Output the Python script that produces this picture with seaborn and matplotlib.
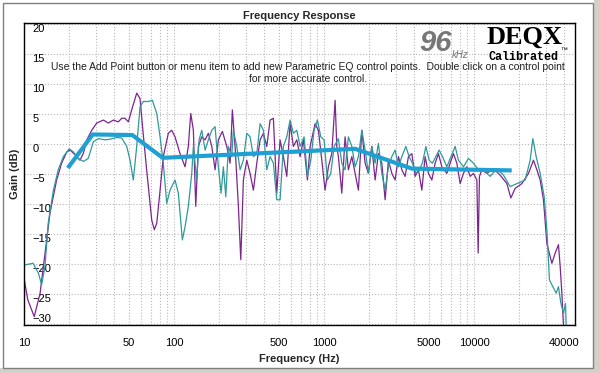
import numpy as np
import pandas as pd
import seaborn as sns
import matplotlib.pyplot as plt
from matplotlib.patches import Rectangle
from matplotlib.ticker import FixedLocator, NullFormatter, LogLocator

# measured response, channel 1 (purple)
purple_freq = [10, 10.6, 11.7, 12.8, 13.8, 14.9, 16.5, 17.8, 19.3, 20.3, 21.9, 23.6, 24.9, 26.2,
               28.3, 30.5, 33.8, 36.5, 39.4, 42.5, 44.8, 47.1, 49.6, 52.2, 56.4, 59.3, 62.4, 65.8,
               71.0, 73.9, 76.7, 80.7, 84.8, 91.6, 96.5, 101.5, 109.6, 118.4, 124.5, 129.2, 134.5,
               139.5, 145.2, 153, 161, 169.3, 178.4, 187.7, 197.4, 209.9, 224.6, 236.2, 244.7, 255.1,
               268.4, 278.4, 289.7, 305.3, 321.1, 337.9, 355.9, 374.5, 393.9, 415, 436.5, 459.2,
               483.8, 508.8, 535.5, 564, 593.3, 624.2, 657.7, 691.8, 727.8, 774.1, 806.9, 871,
               916.2, 965.4, 1015, 1068, 1125, 1184, 1215, 1245, 1312, 1380, 1452, 1530, 1610, 1693,
               1784, 1876, 1974, 2080, 2188, 2301, 2425, 2551, 2684, 2828, 2974, 3129, 3296, 3467,
               3648, 3843, 4043, 4253, 4481, 4713, 4958, 5224, 5495, 5781, 6091, 6577, 6918, 7278,
               7668, 8066, 8486, 8941, 9404, 9893, 10423, 10633, 10847, 11255, 12154, 13452, 14909,
               16520, 17565, 18761, 20797, 23015, 24853, 26182, 27542, 28973, 30524, 32961, 34674,
               36475, 37428, 38424, 39376]
purple_gain = [-22.4, -26, -28.8, -24.9, -18.2, -11.5, -6, -3.2, -1.3, -1, -1.8, -2.7, -1.5, 0.7,
               2.3, 3.5, 4.0, 3.5, 4.0, 3.7, 4.3, 4.3, 3.7, 5.7, 8.5, 7.6, 1.5, -4.5,
               -12.7, -14.3, -13.2, -7.7, -2.1, 1.8, 2.3, 1.2, -1.6, -3.8, -0.4, 5.1, 2.3,
               -10.4, -0.4, 1.2, 0.7, 1.8, -0.4, -4.3, 0.7, 2.1, -0.4, -3.2, 5.7, -0.4,
               -10.4, -19.3, -6, -2.7, -4.9, -7.7, -3.2, 0.7, 1.8, -0.4, 4.0, 4.3,
               -8.2, 0.7, -2.1, -5.4, 3.4, -0.4, 0.7, -2.1, 0.7, -6, -0.4, 3.4,
               2.3, -2.7, -7.7, -3.8, -1.6, 7.3, -0.4, -2.1, -8.2, 1.2, -4.3, -2.1, -4.9, -7.7,
               2.3, -3.2, -4.9, -0.4, -6, -1.6, -3.2, -9.3, -2.7, -4.9, -6, -2.1, -4.3, -5.4,
               -2.1, -1.6, -5.4, -4.3, -7.7, -2.1, -4.9, -6, -3.2, -1.6, -3.8, -4.9, -3.2, -1.6,
               -3.2, -6.6, -4.9, -3.8, -5.4, -4.9, -6, -18.2, -5.4, -4.3, -4.9, -4.1, -5.2,
               -6.6, -9, -7.4, -6.6, -4.9, -2.7, -4.3, -6, -9.3, -16.6, -19.9, -18.2,
               -16.8, -20.4, -24.9, -30.4]

# measured response, channel 2 (teal)
teal_freq = [10, 11.5, 12.5, 13.1, 13.8, 14.5, 15.7, 16.9, 18.3, 20.0, 21.3, 23.0, 24.9, 26.8,
             29.0, 31.3, 34.7, 37.4, 41.5, 44.8, 48.4, 50.9, 53.5, 56.4, 59.3, 62.4, 67.4, 71.7,
             76.7, 80.7, 84.8, 89.4, 94.0, 101.5, 106.8, 113.6, 118.4, 124.5, 131.2, 134.5, 141.7,
             146.8, 153, 161, 169.3, 178.4, 187.7, 197.4, 205.8, 213.2, 221.2, 230.1, 242.4, 248.4,
             261.8, 275.4, 289.7, 305.3, 321.1, 337.9, 355.9, 374.5, 393.9, 415, 436.5, 459.2,
             483.8, 508.8, 535.5, 564, 593.3, 624.2, 657.7, 691.8, 735.6, 774.1, 815.3, 857.7,
             902.2, 950.6, 1000, 1052, 1108, 1166, 1245, 1312, 1380, 1452, 1530, 1610, 1693, 1784,
             1876, 1974, 2080, 2188, 2301, 2425, 2551, 2684, 2828, 2974, 3129, 3296, 3505, 3687,
             3879, 4088, 4298, 4521, 4764, 5012, 5272, 5555, 5843, 6147, 6577, 7468, 7857, 8486,
             9162, 9893, 10683, 11535, 12788, 14168, 15683, 17378, 19269, 21878, 23618, 24614,
             25900, 27542, 29286, 30524, 31769, 33474, 35213, 36475, 37844, 39376, 40626, 41060]
teal_gain = [-20.2, -19.9, -21.6, -23.5, -20.4, -13.2, -7.7, -4.3, -2.1, -0.8, -1.3, -2.4, -2.9, -2.4,
             0.4, 0.9, 0.7, 0.8, 1.1, 1.0, -0.4, -2.7, -6, -0.4, 6.2, 7.1, 7.1, 7.3,
             5.1, 1.2, -3.2, -9.9, -7.7, -6, -8.2, -16, -13.8, -10.4, -4.9, -0.4, -6,
             0.7, 2.3, -1, 0.7, 2.3, 2.9, -3.8, -8.2, -3.8, -8.8, -0.4, -2.1, 2.3,
             -0.4, -4.3, -2.7, 1.8, 1.2, -2.1, -1.6, 3.4, 2.3, -4.3, -2.1, -3.2,
             -9.3, -9.3, -0.4, 1.2, 4.0, 1.8, 2.3, -0.4, 1.2, -5.4, -2.7, 2.3,
             4.0, 1.2, 0.7, -6, -4.9, -0.4, 0.9, -3.2, -4.3, 1.2, -0.4, -3.8, -2.1, 2.3,
             -1, -4.9, -0.4, -3.2, 0.1, -4.9, -7.7, -3.8, -2.1, -1, -3.8, -2.1, -0.4, -2.1,
             -3.2, -4.9, -4.3, -3.2, -0.4, -2.7, -3.2, -2.1, -1, -2.1, -3.8, -0.4, -2.7, -3.8,
             -2.4, -3.2, -4.3, -4.3, -5.4, -4.1, -5.2, -7.1, -6.6, -6, -2.7, 0.9,
             -2.1, -4.9, -8.8, -14.3, -22.7, -23.8, -24.9, -23.8, -26.6, -28.2, -26.6, -30.4]

# parametric EQ control points
eq_freq = [19.6, 28.7, 52.7, 84, 1610, 3845, 17800]
eq_gain = [-4.0, 1.6, 1.5, -2.3, -0.8, -4.1, -4.4]

x_ticks = [10, 50, 100, 500, 1000, 5000, 10000, 40000]
y_ticks = [20, 15, 10, 5, 0, -5, -10, -15, -20, -25, -30]

sns.set_style("white")
plt.rcParams['font.family'] = ['Liberation Sans', 'DejaVu Sans']

fig = plt.figure(figsize=(6, 3.73), dpi=100)
fig.patch.set_facecolor('white')
ax = fig.add_axes([24 / 600, 1 - 325 / 373, 551 / 600, 302 / 373])

sns.lineplot(x=purple_freq, y=purple_gain, ax=ax, color='#7d2590', linewidth=0.9, estimator=None)
sns.lineplot(x=teal_freq, y=teal_gain, ax=ax, color='#2f9a98', linewidth=0.9, estimator=None)
sns.lineplot(x=eq_freq, y=eq_gain, ax=ax, color='#1ea0d2', linewidth=3.0, estimator=None,
             solid_capstyle='butt')

ax.set_xscale('log')
ax.set_xlim(10, 47000)
ax.set_ylim(-30.2, 20.2)

ax.xaxis.set_major_locator(FixedLocator(x_ticks))
ax.set_xticklabels([str(t) for t in x_ticks])
ax.xaxis.set_minor_locator(LogLocator(base=10, subs=np.arange(1, 10)))
ax.xaxis.set_minor_formatter(NullFormatter())
ax.set_yticks(y_ticks)
ax.yaxis.set_minor_locator(FixedLocator(np.arange(-30, 21, 1)))

ax.grid(True, which='both', axis='x', linestyle=':', color='#b8b8b8', linewidth=0.8)
ax.grid(True, which='major', axis='y', linestyle=':', color='#b8b8b8', linewidth=0.8)
ax.set_axisbelow(True)

for s in ax.spines.values():
    s.set_color('black')
    s.set_linewidth(1.0)

ax.tick_params(axis='x', which='major', direction='in', length=4, width=0.8, labelsize=8, pad=9, colors='black')
ax.tick_params(axis='x', which='minor', direction='in', length=3, width=0.8)
ax.tick_params(axis='y', which='major', direction='out', length=3, width=0.8, labelsize=8, pad=-9, colors='black')
ax.tick_params(axis='y', which='minor', direction='out', length=2, width=0.6)
for lab in ax.get_yticklabels():
    lab.set_horizontalalignment('left')
    lab.set_verticalalignment('top')
ax.get_yticklabels()[-1].set_verticalalignment('bottom')

ax.set_xlabel('Frequency (Hz)', fontsize=8, fontweight='bold')
ax.xaxis.set_label_coords(0.5, -29 / 302)
ax.set_ylabel('Gain (dB)', fontsize=8, fontweight='bold')
ax.yaxis.set_label_coords(-4 / 551, 0.5)
ax.set_title('Frequency Response', fontsize=8, fontweight='bold', pad=3)

ax.text(0.515, 0.835, 'Use the Add Point button or menu item to add new Parametric EQ control points.  '
        'Double click on a control point\nfor more accurate control.',
        transform=ax.transAxes, ha='center', va='center', fontsize=7.5, color='#202020',
        linespacing=1.3)

# 96 kHz / DEQX badge
ax.text(0.718, 0.935, '96', transform=ax.transAxes, fontsize=21, fontstyle='italic',
        fontweight='bold', color='#777777', ha='left', va='center')
ax.text(0.777, 0.893, 'kHz', transform=ax.transAxes, fontsize=7, fontstyle='italic',
        color='#777777', ha='left', va='center')
ax.text(0.909, 0.954, 'DEQX', transform=ax.transAxes, fontsize=19, fontweight='bold',
        family='Liberation Serif', color='black', ha='center', va='center')
ax.text(0.906, 0.889, 'Calibrated', transform=ax.transAxes, fontsize=8.5, fontweight='bold',
        family='Liberation Mono', color='black', ha='center', va='center')
ax.text(0.973, 0.91, '™', transform=ax.transAxes, fontsize=5, color='black', ha='left', va='center')

# window frame
fig.patches.append(Rectangle((594 / 600, 0), 6 / 600, 1, transform=fig.transFigure,
                             facecolor='#d4d0c8', edgecolor='none', zorder=0))
fig.patches.append(Rectangle((0, 0), 1, 5 / 373, transform=fig.transFigure,
                             facecolor='#d4d0c8', edgecolor='none', zorder=0))
fig.patches.append(Rectangle((3 / 600, 5 / 373), 590 / 600, 365 / 373, transform=fig.transFigure,
                             facecolor='none', edgecolor='#808080', linewidth=1.0, zorder=1))

fig.savefig('out.png', dpi=100)
